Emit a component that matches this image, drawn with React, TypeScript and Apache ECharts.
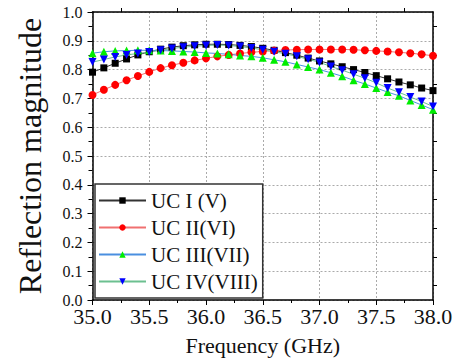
import React, { useEffect, useRef } from "react";
import * as echarts from "echarts";

const freq = [35.0, 35.1, 35.2, 35.3, 35.4, 35.5, 35.6, 35.7, 35.8, 35.9, 36.0, 36.1, 36.2, 36.3, 36.4, 36.5, 36.6, 36.7, 36.8, 36.9, 37.0, 37.1, 37.2, 37.3, 37.4, 37.5, 37.6, 37.7, 37.8, 37.9, 38.0];
const uc1 = [0.791, 0.806, 0.822, 0.837, 0.851, 0.862, 0.871, 0.878, 0.883, 0.886, 0.888, 0.888, 0.887, 0.884, 0.880, 0.874, 0.867, 0.859, 0.850, 0.840, 0.830, 0.820, 0.810, 0.800, 0.790, 0.779, 0.768, 0.757, 0.747, 0.736, 0.727];
const uc2 = [0.712, 0.730, 0.747, 0.763, 0.778, 0.792, 0.805, 0.815, 0.824, 0.832, 0.839, 0.846, 0.851, 0.856, 0.860, 0.863, 0.866, 0.868, 0.869, 0.870, 0.870, 0.870, 0.870, 0.869, 0.867, 0.865, 0.863, 0.860, 0.857, 0.853, 0.848];
const uc3 = [0.857, 0.862, 0.865, 0.866, 0.867, 0.867, 0.866, 0.865, 0.863, 0.861, 0.858, 0.856, 0.853, 0.849, 0.846, 0.841, 0.834, 0.827, 0.818, 0.809, 0.800, 0.789, 0.777, 0.763, 0.750, 0.736, 0.722, 0.709, 0.693, 0.677, 0.661];
const uc4 = [0.826, 0.835, 0.844, 0.851, 0.856, 0.861, 0.867, 0.873, 0.878, 0.881, 0.884, 0.885, 0.884, 0.880, 0.875, 0.869, 0.862, 0.855, 0.846, 0.836, 0.825, 0.811, 0.798, 0.784, 0.770, 0.754, 0.736, 0.721, 0.705, 0.689, 0.672];
const names = ["UC I (V)", "UC II(VI)", "UC III(VII)", "UC IV(VIII)"];

const FONT = "Liberation Serif";

export default function App() {
  const ref = useRef<HTMLDivElement>(null);
  useEffect(() => {
    if (!ref.current) return;
    const chart = echarts.init(ref.current, null, { renderer: "svg" });
    const pts = (vals: number[]) => freq.map((f, i) => [f, vals[i]]);
    const mk = (name: string, vals: number[], sym: string, rot: number, fill: string, line: string, size: number) => ({
      name,
      type: "line",
      data: pts(vals),
      symbol: sym,
      symbolRotate: rot,
      symbolSize: size,
      itemStyle: { color: fill },
      lineStyle: { color: line, width: 1 },
    });
    chart.setOption({
      animation: false,
      backgroundColor: "#fff",
      textStyle: { fontFamily: FONT },
      grid: { left: 92.5, right: 28, top: 12, bottom: 62 },
      legend: {
        left: 95,
        top: 184,
        orient: "vertical",
        itemWidth: 47,
        itemHeight: 8,
        itemGap: 6,
        padding: [6, 5, 6, 3],
        borderColor: "#333",
        borderWidth: 1.5,
        backgroundColor: "#fff",
        lineStyle: { width: 2 },
        textStyle: { fontFamily: FONT, fontSize: 21, lineHeight: 21, color: "#111" },
        data: names,
      },
      xAxis: [
        {
          type: "value",
          min: 35,
          max: 38,
          interval: 0.5,
          name: "Frequency (GHz)",
          nameLocation: "middle",
          nameGap: 34,
          nameTextStyle: { fontFamily: FONT, fontSize: 22, color: "#111" },
          axisLine: { show: true, lineStyle: { color: "#000", width: 1.5 } },
          axisTick: { show: true, inside: false, length: 5, lineStyle: { color: "#000", width: 1 } },
          minorTick: { show: true, splitNumber: 2, length: 3, lineStyle: { color: "#000", width: 1 } },
          axisLabel: { fontFamily: FONT, fontSize: 22, lineHeight: 16, color: "#111", margin: 8, formatter: (v: number) => v.toFixed(1) },
          splitLine: { show: true, lineStyle: { color: "#aaa", type: [2, 2], width: 1 } },
        },
        {
          type: "value",
          position: "top",
          min: 35,
          max: 38,
          interval: 0.5,
          axisLine: { show: true, onZero: false, lineStyle: { color: "#000", width: 1.5 } },
          axisTick: { show: false },
          minorTick: { show: true, splitNumber: 2, length: 4, lineStyle: { color: "#000", width: 1 } },
          axisLabel: { show: false },
          splitLine: { show: false },
        },
      ],
      yAxis: [
        {
          type: "value",
          min: 0,
          max: 1,
          interval: 0.1,
          name: "Reflection magnitude",
          nameLocation: "middle",
          nameGap: 47,
          nameTextStyle: { fontFamily: FONT, fontSize: 32, color: "#111" },
          axisLine: { show: true, onZero: false, lineStyle: { color: "#000", width: 1.5 } },
          axisTick: { show: true, inside: false, length: 5, lineStyle: { color: "#000", width: 1 } },
          minorTick: { show: true, splitNumber: 2, length: 4, lineStyle: { color: "#000", width: 1 } },
          axisLabel: { fontFamily: FONT, fontSize: 16, color: "#111", margin: 10, formatter: (v: number) => v.toFixed(1) },
          splitLine: { show: true, lineStyle: { color: "#aaa", type: [2, 2], width: 1 } },
        },
        {
          type: "value",
          position: "right",
          min: 0,
          max: 1,
          interval: 0.1,
          axisLine: { show: true, onZero: false, lineStyle: { color: "#000", width: 1.5 } },
          axisTick: { show: false },
          minorTick: { show: true, splitNumber: 2, length: 4, lineStyle: { color: "#000", width: 1 } },
          axisLabel: { show: false },
          splitLine: { show: false },
        },
      ],
      series: [
        mk(names[0], uc1, "rect", 0, "#000", "#333", 7),
        mk(names[1], uc2, "circle", 0, "#ff0000", "#f07070", 8),
        mk(names[2], uc3, "triangle", 0, "#00ee00", "#4a8fe0", 8),
        mk(names[3], uc4, "triangle", 180, "#0000ff", "#6cc090", 8),
      ],
    });
    return () => chart.dispose();
  }, []);
  return <div ref={ref} style={{ position: "absolute", left: 0, top: 0, width: 461, height: 362 }} />;
}
